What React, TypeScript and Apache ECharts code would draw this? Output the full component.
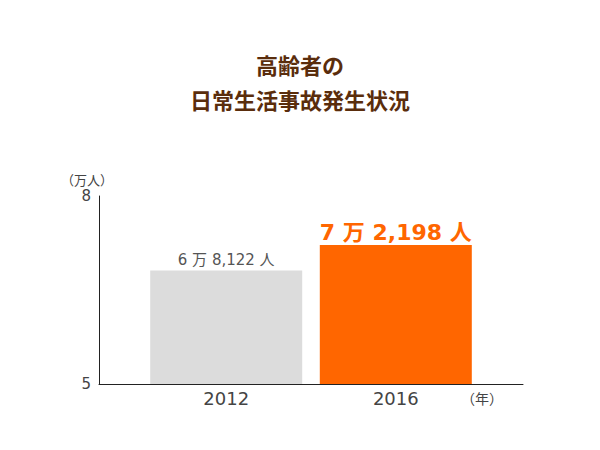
import * as echarts from 'echarts';
import { useEffect, useRef } from 'react';

const years = [2012, 2016];
const values = [6.8122, 7.2198];
const valueLabels = ['6 万 8,122 人', '7 万 2,198 人'];
const barColors = ['#dcdcdc', '#ff6600'];
const yTicks = [5, 8];

function App() {
  const chartRef = useRef<HTMLDivElement>(null);

  useEffect(() => {
    const myChart = echarts.init(chartRef.current, null, { renderer: 'svg' });

    const titleFont = '"Noto Sans CJK JP", "Noto Sans", sans-serif';
    const font = '"DejaVu Sans", "Noto Sans CJK JP", sans-serif';

    const option = {
      animation: false,
      textStyle: { fontFamily: font },
      title: {
        text: '高齢者の\n日常生活事故発生状況',
        left: 'center',
        top: 41,
        textStyle: {
          color: '#5a2d0c',
          fontSize: 22,
          fontWeight: 'bold',
          lineHeight: 35,
          fontFamily: titleFont,
        },
      },
      grid: {
        left: 99,
        right: 77,
        top: 196,
        bottom: 66,
      },
      xAxis: {
        type: 'value',
        min: 2009,
        max: 2019,
        interval: 1,
        splitLine: { show: false },
        axisTick: { show: false },
        axisLine: { show: true, onZero: false, lineStyle: { color: '#222', width: 1 } },
        axisLabel: {
          color: '#444',
          fontSize: 18,
          margin: 5,
          fontFamily: font,
          formatter: (v: number) => (years.includes(v) ? String(v) : ''),
        },
        name: '（年）',
        nameLocation: 'end',
        nameGap: -62,
        nameTextStyle: {
          color: '#444',
          fontSize: 14,
          fontFamily: font,
          verticalAlign: 'top',
          padding: [8, 0, 0, 0],
        },
      },
      yAxis: {
        type: 'value',
        min: 5,
        max: 8,
        interval: 1,
        splitLine: { show: false },
        axisTick: { show: false },
        axisLine: { show: true, lineStyle: { color: '#222', width: 1 } },
        axisLabel: {
          color: '#444',
          fontSize: 15,
          margin: 8,
          fontFamily: font,
          formatter: (v: number) => (yTicks.includes(v) ? String(v) : ''),
        },
        name: '（万人）',
        nameLocation: 'end',
        nameGap: 9,
        nameTextStyle: {
          color: '#444',
          fontSize: 13,
          fontFamily: font,
          align: 'center',
          padding: [0, 24, 0, 0],
        },
      },
      series: [
        {
          type: 'bar',
          barWidth: 152,
          data: years.map((y, i) => ({
            value: [y, values[i]],
            itemStyle: { color: barColors[i] },
            label: {
              show: true,
              position: 'top',
              distance: i === 0 ? 3 : 1,
              formatter: valueLabels[i],
              color: i === 0 ? '#555' : '#ff6600',
              fontSize: i === 0 ? 15 : 22,
              fontWeight: i === 0 ? 'normal' : 'bold',
              fontFamily: font,
            },
          })),
        },
      ],
    };

    myChart.setOption(option);

    return () => {
      myChart.dispose();
    };
  }, []);

  return (
    <div
      ref={chartRef}
      style={{ position: 'fixed', left: 0, top: 0, width: '600px', height: '450px', background: '#fff' }}
    ></div>
  );
}

export default App;
